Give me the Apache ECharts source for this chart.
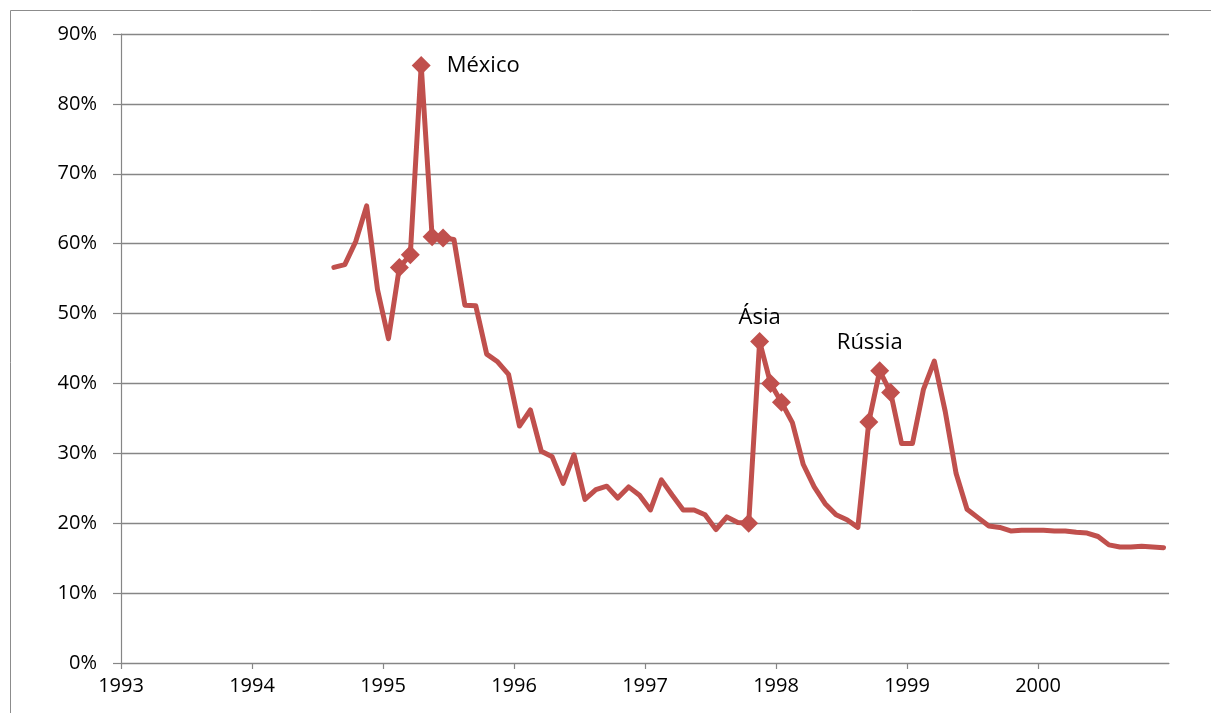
<!DOCTYPE html>
<html>
<head>
<meta charset="utf-8">
<script src="https://cdn.jsdelivr.net/npm/echarts@6/dist/echarts.min.js"></script>
<style>
  html, body { margin: 0; padding: 0; background: #ffffff; }
  #chart { width: 1211px; height: 713px; }
</style>
</head>
<body>
<div id="chart"></div>
<script>
// Monthly spread (%), series starts in August 1994
const firstYear = 1994;
const firstMonth = 8;
const spread1994 = [56.6, 57.0, 60.3, 65.4, 53.4];
const spread1995 = [46.4, 56.6, 58.4, 85.5, 61.0, 60.8, 60.6, 51.2, 51.1, 44.2, 43.1, 41.3];
const spread1996 = [33.9, 36.2, 30.3, 29.5, 25.7, 29.8, 23.4, 24.8, 25.3, 23.6, 25.2, 24.0];
const spread1997 = [21.9, 26.2, 24.0, 21.9, 21.9, 21.2, 19.1, 20.9, 20.1, 20.0, 46.0, 40.0];
const spread1998 = [37.3, 34.4, 28.4, 25.2, 22.8, 21.2, 20.5, 19.4, 34.5, 41.8, 38.7, 31.4];
const spread1999 = [31.4, 39.1, 43.2, 36.0, 27.1, 22.0, 20.8, 19.6, 19.4, 18.9, 19.0, 19.0];
const spread2000 = [19.0, 18.9, 18.9, 18.7, 18.6, 18.1, 16.9, 16.6, 16.6, 16.7, 16.6, 16.5];
const spreadByYear = [spread1994, spread1995, spread1996, spread1997, spread1998, spread1999, spread2000];

// Year ticks on the time axis and percent ticks on the value axis
const yearTicks = [1993, 1994, 1995, 1996, 1997, 1998, 1999, 2000, 2001];
const percentTicks = [0, 10, 20, 30, 40, 50, 60, 70, 80, 90];

// Crisis months highlighted with markers, and their captions
const crisisMonths = ['1995-02', '1995-03', '1995-04', '1995-05', '1995-06',
                      '1997-10', '1997-11', '1997-12', '1998-01',
                      '1998-09', '1998-10', '1998-11'];
const crisisCaptions = { '1995-04': 'México', '1997-11': 'Ásia', '1998-10': 'Rússia' };

const RED = '#c0504d';
const GRID_GRAY = '#868686';
const FONT = 'Open Sans';

// Each month sits in the middle of its slot on the year axis
function monthPos(year, month) { return year + (month - 0.5) / 12; }

const valueByMonth = {};
const lineData = [];
spreadByYear.forEach(function (arr, i) {
  const year = firstYear + i;
  const startM = i === 0 ? firstMonth : 1;
  arr.forEach(function (v, j) {
    const m = startM + j;
    const key = year + '-' + String(m).padStart(2, '0');
    valueByMonth[key] = v;
    lineData.push([monthPos(year, m), v]);
  });
});

const captionStyle = {
  'México': { position: 'right', distance: 16 },
  'Ásia': { position: 'top', distance: 3 },
  'Rússia': { position: 'top', distance: 8, offset: [-10, 0] }
};

const markerData = crisisMonths.map(function (key) {
  const parts = key.split('-');
  const item = { value: [monthPos(+parts[0], +parts[1]), valueByMonth[key]] };
  const caption = crisisCaptions[key];
  if (caption) {
    item.label = Object.assign({
      show: true,
      formatter: caption,
      color: '#000',
      fontFamily: FONT,
      fontSize: 22
    }, captionStyle[caption]);
  }
  return item;
});

const chart = echarts.init(document.getElementById('chart'), null, { renderer: 'canvas' });
chart.setOption({
  animation: false,
  backgroundColor: '#ffffff',
  graphic: [{
    type: 'rect',
    left: 8, top: 8,
    shape: { width: 1230, height: 740 },
    style: { fill: 'none', stroke: '#8c8c8c', lineWidth: 1 },
    silent: true,
    z: -10
  }],
  grid: { left: 121, right: 42, top: 34, bottom: 50 },
  xAxis: {
    type: 'value',
    min: yearTicks[0],
    max: yearTicks[yearTicks.length - 1],
    interval: 1,
    axisLine: { show: true, lineStyle: { color: GRID_GRAY, width: 1.2 } },
    axisTick: { show: true, length: 6, lineStyle: { color: GRID_GRAY, width: 1.2 } },
    splitLine: { show: false },
    axisLabel: {
      show: true,
      showMaxLabel: false,
      margin: 13,
      color: '#000',
      fontFamily: FONT,
      fontSize: 20,
      formatter: function (v) { return String(v); }
    }
  },
  yAxis: {
    type: 'value',
    min: percentTicks[0],
    max: percentTicks[percentTicks.length - 1],
    interval: 10,
    axisLine: { show: true, lineStyle: { color: GRID_GRAY, width: 1.2 } },
    axisTick: { show: true, length: 8, lineStyle: { color: GRID_GRAY, width: 1.2 } },
    splitLine: { show: true, lineStyle: { color: GRID_GRAY, width: 1.3 } },
    axisLabel: {
      margin: 24,
      color: '#000',
      fontFamily: FONT,
      fontSize: 20,
      formatter: '{value}%'
    }
  },
  series: [
    {
      type: 'line',
      data: lineData,
      symbol: 'none',
      lineStyle: { color: RED, width: 5, join: 'round', cap: 'round' },
      z: 2
    },
    {
      type: 'scatter',
      data: markerData,
      symbol: 'diamond',
      symbolSize: 19,
      itemStyle: { color: RED, opacity: 1 },
      z: 3
    }
  ]
});
</script>
</body>
</html>
